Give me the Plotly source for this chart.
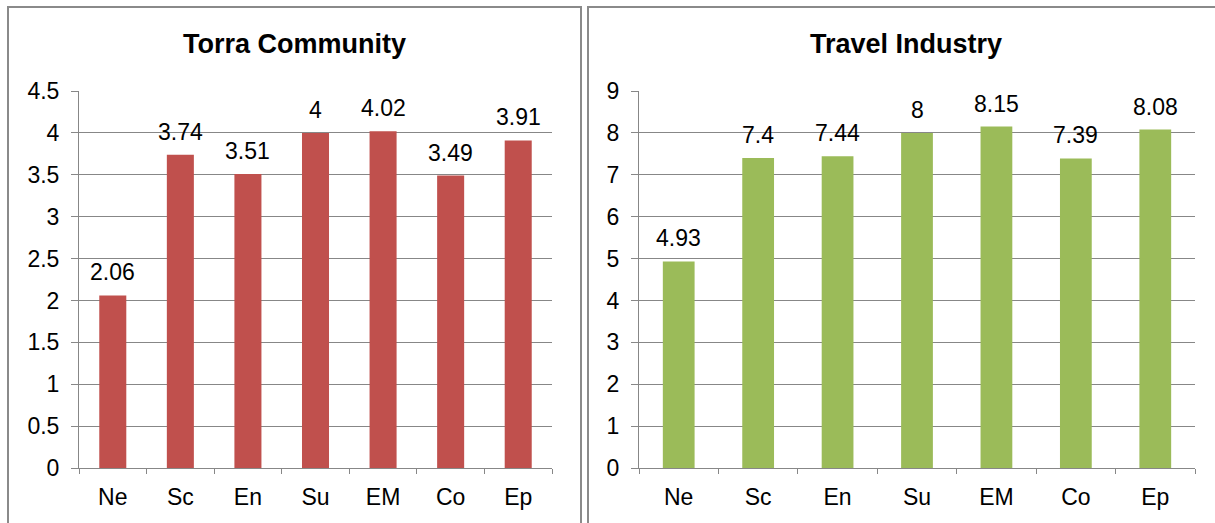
import plotly.graph_objects as go

# Chart data
categories = ["Ne", "Sc", "En", "Su", "EM", "Co", "Ep"]
torra_values = [2.06, 3.74, 3.51, 4.0, 4.02, 3.49, 3.91]
travel_values = [4.93, 7.4, 7.44, 8.0, 8.15, 7.39, 8.08]
torra_ticks = [0, 0.5, 1, 1.5, 2, 2.5, 3, 3.5, 4, 4.5]
travel_ticks = [0, 1, 2, 3, 4, 5, 6, 7, 8, 9]

W, H = 1215, 523
FONT = "Liberation Sans, Arial, sans-serif"
GRID = "#878787"
RED = "#C0504D"
GREEN = "#9BBB59"


def px_x(v):
    return v / W


def px_y(v):
    return 1 - v / H


fig = go.Figure()
fig.add_trace(go.Bar(x=categories, y=torra_values, marker=dict(color=RED, line=dict(width=0)),
                     xaxis="x", yaxis="y", showlegend=False))
fig.add_trace(go.Bar(x=categories, y=travel_values, marker=dict(color=GREEN, line=dict(width=0)),
                     xaxis="x2", yaxis="y2", showlegend=False))

common_y = dict(showgrid=True, gridcolor=GRID, gridwidth=1, showline=True, linecolor=GRID, linewidth=1,
                ticks="outside", ticklen=7, tickcolor=GRID, tickwidth=1, zeroline=False, automargin=False,
                tickfont=dict(family=FONT, size=23, color="black"), ticklabelstandoff=7,
                domain=[px_y(468), px_y(91)], fixedrange=True)
common_x = dict(type="category", showgrid=False, showline=True, linecolor=GRID, linewidth=1,
                ticks="outside", ticklen=5, tickcolor=GRID, tickwidth=1, tickson="boundaries",
                ticklabelstandoff=8, automargin=False,
                tickfont=dict(family=FONT, size=23, color="black"), fixedrange=True)

fig.update_layout(
    width=W, height=H,
    margin=dict(l=0, r=0, t=0, b=0, pad=0, autoexpand=False),
    paper_bgcolor="white", plot_bgcolor="white",
    bargap=0.6,
    xaxis=dict(common_x, domain=[px_x(79), px_x(552)], anchor="y"),
    yaxis=dict(common_y, range=[0, 4.5], tickvals=torra_ticks,
               ticktext=[f"{t:g}" for t in torra_ticks], anchor="x"),
    xaxis2=dict(common_x, domain=[px_x(639), px_x(1195)], anchor="y2"),
    yaxis2=dict(common_y, range=[0, 9], tickvals=travel_ticks,
                ticktext=[f"{t:g}" for t in travel_ticks], anchor="x2"),
)

# Value labels above each bar
annotations = []
for xref, yref, vals in (("x", "y", torra_values), ("x2", "y2", travel_values)):
    for c, v in zip(categories, vals):
        annotations.append(dict(x=c, y=v, xref=xref, yref=yref, text=f"{v:g}", showarrow=False,
                                yanchor="bottom", yshift=8,
                                font=dict(family=FONT, size=23, color="black")))

# Panel titles
annotations.append(dict(x=px_x(294.5), y=px_y(44), xref="paper", yref="paper", text="<b>Torra Community</b>",
                        showarrow=False, xanchor="center", yanchor="middle",
                        font=dict(family=FONT, size=27, color="black")))
annotations.append(dict(x=px_x(906), y=px_y(44), xref="paper", yref="paper", text="<b>Travel Industry</b>",
                        showarrow=False, xanchor="center", yanchor="middle",
                        font=dict(family=FONT, size=27, color="black")))
fig.update_layout(annotations=annotations)

# Panel frames
BORDER = "#8a8a8a"
fig.add_shape(type="rect", xref="paper", yref="paper", x0=px_x(8), x1=px_x(581), y0=px_y(530), y1=px_y(7),
              line=dict(color=BORDER, width=2), layer="below")
fig.add_shape(type="rect", xref="paper", yref="paper", x0=px_x(588), x1=px_x(1230), y0=px_y(530), y1=px_y(7),
              line=dict(color=BORDER, width=2), layer="below")

fig.write_html("out.html")
